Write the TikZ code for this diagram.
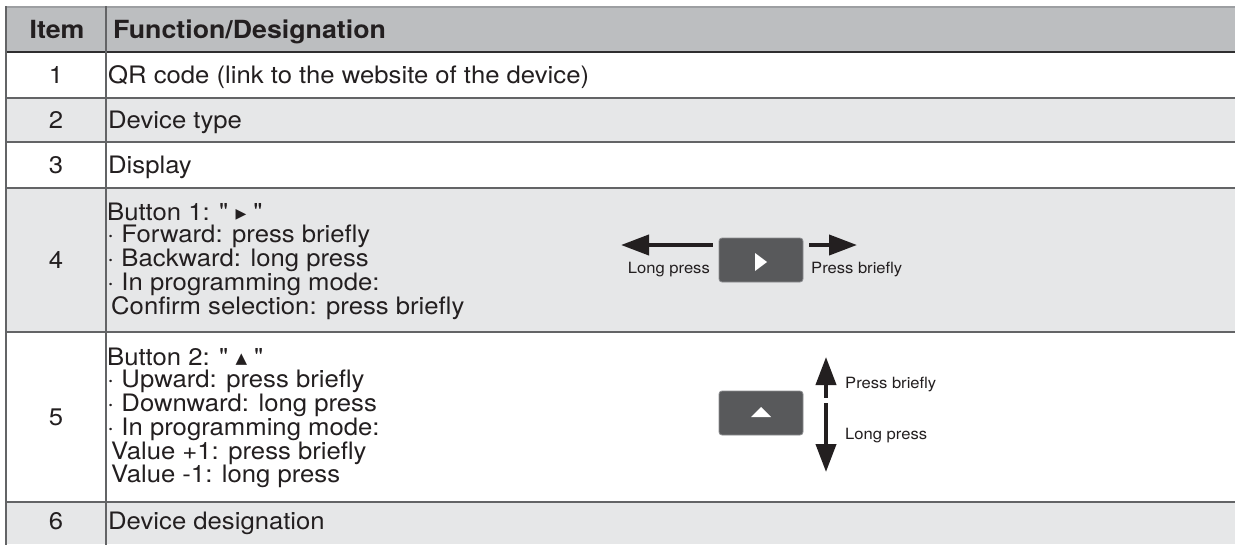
\documentclass[tikz,border=0pt]{standalone}
\usepackage{fontspec}
\newfontfamily\helv{TeX Gyre Heros}[FakeStretch=1.07]
\newfontfamily\symfont{DejaVu Sans}
\usetikzlibrary{arrows.meta}
\definecolor{headgray}{HTML}{BCBEC0}
\definecolor{rowgray}{HTML}{E6E7E8}
\definecolor{rule}{HTML}{636466}
\definecolor{rulehead}{HTML}{2E2E2F}
\definecolor{ruletop}{HTML}{9D9FA2}
\definecolor{keygray}{HTML}{58595B}
\definecolor{keyedge}{HTML}{8C8D90}
\definecolor{ink}{HTML}{231F20}

\tikzset{
  txt/.style={inner sep=0pt,text=ink,font=\helv\fontsize{24}{22.5}\selectfont},
  multicell/.style={txt,anchor=west,align=left},
  onecell/.style={txt,anchor=west,text height=17.2pt,text depth=0pt},
  numcell/.style={onecell,anchor=center},
  headcell/.style={onecell,text height=17.8pt,font=\helv\fontsize{25}{22.5}\selectfont\bfseries},
  key/.style={fill=keygray,draw=keyedge,line width=0.8pt,rounded corners=3pt,
    minimum width=84pt,minimum height=44pt,inner sep=0pt},
  keylabel/.style={inner sep=0pt,text=ink,font=\helv\fontsize{15.5}{18}\selectfont},
  bigarrow/.style={ink,line width=4pt,-{Triangle[length=28pt,width=20pt]}},
}
\newcommand{\rtri}{\raisebox{1.5pt}{\symfont\fontsize{14}{14}\selectfont ▶}}
\newcommand{\utri}{\raisebox{1.5pt}{\symfont\fontsize{15}{15}\selectfont ▲}}

\begin{document}
\begin{tikzpicture}[x=1pt,y=-1pt,line cap=rect]
  \useasboundingbox (0,0) rectangle (1235,544);
  \fill[white] (0,0) rectangle (1235,544);
  % ---- row shading ----
  \foreach \ytop/\ybot/\c in {7/52/headgray,52/98/white,98/142/rowgray,142/188/white,188/332/rowgray,332/502/white,502/544/rowgray}{
    \fill[\c] (6,\ytop) rectangle (1235,\ybot);
  }
  % ---- rules ----
  \draw[ruletop,line width=1.2pt] (6,7) -- (1235,7);
  \foreach \y in {98,142,188,332,502}{
    \draw[rule,line width=1.8pt] (6,\y) -- (1235,\y);
  }
  \draw[rulehead,line width=2pt] (6,52) -- (1235,52);
  \draw[rule,line width=1.8pt] (6,7) -- (6,544);
  \draw[rule,line width=1.8pt] (106,7) -- (106,544);

  % ---- header ----
  \node[headcell,anchor=center] (hitem) at (57,29.5) {Item};
  \node[headcell] (hfunc) at (113,29.5) {Function/Designation};

  % ---- item numbers ----
  \foreach \n/\y in {1/75,2/120,3/165,4/260,5/417,6/521}{
    \node[numcell] (n\n) at (56,\y) {\n};
  }

  % ---- descriptions ----
  \node[onecell] (d1) at (108,75) {QR code (link to the website of the device)};
  \node[onecell] (d2) at (108,120) {Device type};
  \node[onecell] (d3) at (108,165) {Display};
  \node[multicell] (d4) at (107,261) {Button 1: " \rtri\ "\\
    · Forward: press briefly\\
    · Backward: long press\\
    · In programming mode:\\
    \hspace*{4pt}Confirm selection: press briefly};
  \node[multicell] (d5) at (107,418) {Button 2: " \utri\ "\\
    · Upward: press briefly\\
    · Downward: long press\\
    · In programming mode:\\
    \hspace*{4pt}Value +1: press briefly\\
    \hspace*{4pt}Value -1: long press};
  \node[onecell] (d6) at (108,521) {Device designation};

  % ---- button 1 sketch ----
  \node[key] (k1) at (761,260) {};
  \fill[white] (755,253) -- (755,271) -- (767,262) -- cycle;
  \coordinate (k1l) at (711,245);
  \coordinate (k1lt) at (621,245);
  \coordinate (k1r) at (811,245);
  \coordinate (k1rt) at (857,245);
  \draw[bigarrow] (k1l) -- (k1lt);
  \draw[bigarrow] (k1r) -- (k1rt);
  \node[keylabel,anchor=base east] (k1long) at (710,273) {Long press};
  \node[keylabel,anchor=base west] (k1short) at (811,273) {Press briefly};

  % ---- button 2 sketch ----
  \node[key] (k2) at (761,413) {};
  \fill[white] (751,417) -- (771,417) -- (761,407) -- cycle;
  \coordinate (k2u) at (826,396);
  \coordinate (k2ut) at (826,357);
  \coordinate (k2d) at (826,405);
  \coordinate (k2dt) at (826,472);
  \draw[bigarrow] (k2u) -- (k2ut);
  \draw[bigarrow] (k2d) -- (k2dt);
  \node[keylabel,anchor=base west] (k2short) at (845,388) {Press briefly};
  \node[keylabel,anchor=base west] (k2long) at (845,439) {Long press};
\end{tikzpicture}
\end{document}
